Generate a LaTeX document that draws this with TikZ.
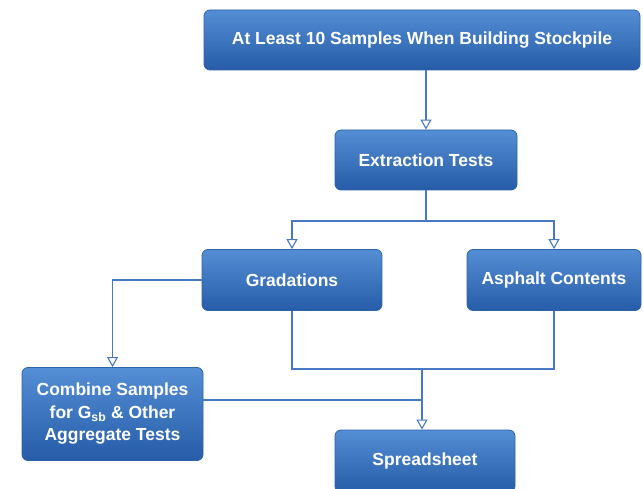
\documentclass[tikz,border=0pt]{standalone}
\usepackage{fontspec}
\setmainfont{Liberation Sans}
\usetikzlibrary{arrows.meta}
\definecolor{boxtop}{RGB}{84,142,212}
\definecolor{boxbot}{RGB}{38,92,168}
\definecolor{boxedge}{RGB}{46,98,170}
\definecolor{linkblue}{RGB}{70,120,196}
\tikzset{
  flowbox/.style={rounded corners=6pt, draw=boxedge, line width=0.8pt,
    top color=boxtop, bottom color=boxbot, text=white,
    font=\fontsize{17.5}{22.5}\selectfont\bfseries, align=center,
    inner sep=0pt},
  link/.style={draw=linkblue, line width=1.1pt},
  linkarrow/.style={link, -{Triangle[open, length=10pt, width=11pt, line width=1.1pt]}}
}
\begin{document}
\begin{tikzpicture}[x=1pt, y=-1pt]
\useasboundingbox (0,0) rectangle (643,489);
% boxes, given by their centres in drawing units
\node[flowbox, minimum width=436pt, minimum height=60pt] (top) at (422,40) {At Least 10 Samples When Building Stockpile};
\node[flowbox, minimum width=182pt, minimum height=60pt] (extr) at (426,160) {Extraction Tests};
\node[flowbox, minimum width=180pt, minimum height=61pt] (grad) at (292,280) {Gradations};
\node[flowbox, minimum width=174pt, minimum height=61pt] (asph) at (554,280) {Asphalt Contents};
\node[flowbox, minimum width=181pt, minimum height=93pt] (comb) at (112.5,414) {Combine Samples\\for G\textsubscript{sb} \& Other\\Aggregate Tests};
\node[flowbox, minimum width=180pt, minimum height=62pt] (sheet) at (425,461) {Spreadsheet};
% connectors
\coordinate (split) at (426,221);
\coordinate (merge) at (422,369);
\draw[linkarrow] (top.south -| extr.north) -- (extr.north);
\draw[link] (extr.south) -- (split);
\draw[linkarrow] (split) -| (grad.north);
\draw[linkarrow] (split) -| (asph.north);
\draw[linkarrow] (grad.west) -| (comb.north);
\draw[link] (grad.south) |- (merge) -| (asph.south);
\draw[linkarrow] (merge) -- (merge |- sheet.north);
\draw[link] (comb.east |- 0,400) -- (merge |- 0,400);
\end{tikzpicture}
\end{document}
